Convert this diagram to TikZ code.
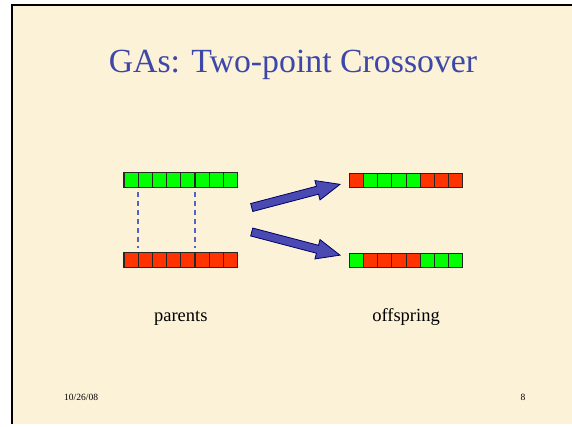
\documentclass[tikz,border=0pt]{standalone}
\usepackage{fontspec}
\setmainfont{Liberation Serif}
\usetikzlibrary{positioning}
\definecolor{parchment}{HTML}{FCF2D8}
\definecolor{titleblue}{HTML}{3D47A9}
\definecolor{genegreen}{HTML}{00FF00}
\definecolor{genered}{HTML}{FF3300}
\definecolor{arrowblue}{HTML}{4A4AB2}
\definecolor{cutblue}{HTML}{5563C8}

\begin{document}
\begin{tikzpicture}
  [x=1pt, y=-1pt,
   gene/.style={draw=black!85, line width=1.1pt, minimum width=14.2pt, minimum height=14.5pt, inner sep=0pt, outer sep=0pt},
   cut/.style={cutblue, line width=1.5pt, dash pattern=on 5pt off 4pt, shorten <=4.5pt, shorten >=4.5pt},
   bigarrow/.style={draw=black!60!blue, fill=arrowblue, line width=0.8pt, line join=miter},
   every node/.style={font=\fontsize{18.5}{20}\selectfont}]
  \useasboundingbox (0,0) rectangle (572,426);
  % slide
  \fill[parchment] (12,5) rectangle (572,424);
  \draw[line width=2pt] (12,424) -- (12,5) -- (572,5);
  \node[anchor=base, titleblue, font=\fontsize{33.8}{36}\selectfont] (title) at (293,72) {GAs: Two-point Crossover};
  % parents
  \foreach \c [count=\i] in {green,green,green,green,green,green,green,green}
    \node[gene, fill=gene\c] (pa-\i) at ({131.1+14.2*(\i-1)},180) {};
  \foreach \c [count=\i] in {red,red,red,red,red,red,red,red}
    \node[gene, fill=gene\c] (pb-\i) at ({131.1+14.2*(\i-1)},260) {};
  \draw[cut] (pa-1.south east) -- (pb-1.north east);
  \draw[cut] (pa-5.south east) -- (pb-5.north east);
  % offspring
  \foreach \c [count=\i] in {red,green,green,green,green,red,red,red}
    \node[gene, fill=gene\c] (oa-\i) at ({356.4+14.2*(\i-1)},180.3) {};
  \foreach \c [count=\i] in {green,red,red,red,red,green,green,green}
    \node[gene, fill=gene\c] (ob-\i) at ({356.4+14.2*(\i-1)},260.3) {};
  % crossover arrows
  \begin{scope}[shift={(251.7,207.5)}, rotate=14.7]
    \draw[bigarrow] (0,4.1) -- (68,4.1) -- (68,10) -- (91.3,0) -- (68,-10) -- (68,-4.1) -- (0,-4.1) -- cycle;
  \end{scope}
  \begin{scope}[shift={(251.7,232)}, rotate=-14.7]
    \draw[bigarrow] (0,4.1) -- (68,4.1) -- (68,10) -- (91.3,0) -- (68,-10) -- (68,-4.1) -- (0,-4.1) -- cycle;
  \end{scope}
  % labels
  \node[anchor=base] (parents) at (180.8,321) {parents};
  \node[anchor=base] (offspring) at (406,321) {offspring};
  \node[anchor=base west, font=\fontsize{9.5}{11}\selectfont] (date) at (60.7,400) {10/26/08};
  \node[anchor=base, font=\fontsize{9.5}{11}\selectfont] (pagenum) at (523,400) {8};
\end{tikzpicture}
\end{document}
